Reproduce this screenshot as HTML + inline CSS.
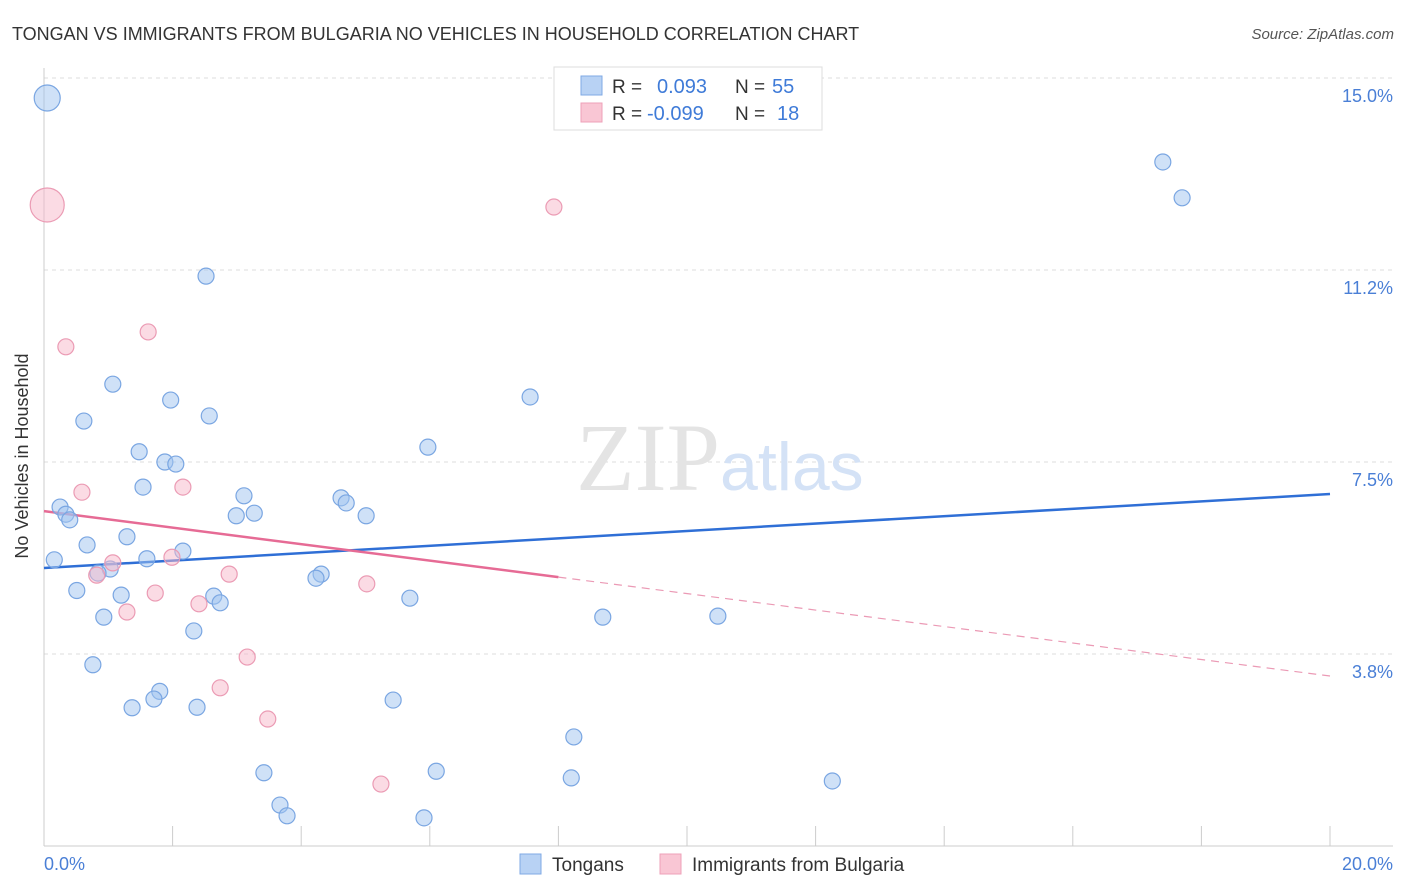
<!DOCTYPE html>
<html><head><meta charset="utf-8"><style>
body{margin:0;background:#fff;font-family:"Liberation Sans",sans-serif;}
svg{display:block}
</style></head><body>
<svg width="1406" height="892" xmlns="http://www.w3.org/2000/svg">
<text x="12" y="40" font-size="18" fill="#333">TONGAN VS IMMIGRANTS FROM BULGARIA NO VEHICLES IN HOUSEHOLD CORRELATION CHART</text>
<text x="1394" y="39" font-size="15" fill="#555" font-style="italic" text-anchor="end">Source: ZipAtlas.com</text>
<g id="grid"></g>
<line x1="44" y1="68" x2="44" y2="846" stroke="#ccc"/>
<line x1="44" y1="846" x2="1393" y2="846" stroke="#ccc"/>
<g id="xticks"></g>
<text x="720" y="490" font-size="96" fill="#e4e4e4" text-anchor="end" font-family="Liberation Serif,serif">ZIP</text>
<text x="720" y="490" font-size="68" fill="#d4e2f6">atlas</text>
<text x="28" y="456" font-size="18" fill="#333" text-anchor="middle" transform="rotate(-90 28 456)">No Vehicles in Household</text>
<text x="44" y="870" font-size="18" fill="#4a7fd6">0.0%</text>
<text x="1393" y="870" font-size="18" fill="#4a7fd6" text-anchor="end">20.0%</text>
<g id="trend"></g>
<g id="pts"></g>
<g>
<rect x="554" y="67" width="268" height="63" fill="#fff" stroke="#ddd"/>
<rect x="581" y="76" width="21" height="19" fill="#b8d2f4" stroke="#7fa9e4"/>
<rect x="581" y="103" width="21" height="19" fill="#f9c6d4" stroke="#eea0b8"/>
<text x="612" y="93" font-size="19" fill="#333">R = </text><text x="657" y="93" font-size="20" fill="#3f7bd8">0.093</text>
<text x="735" y="93" font-size="19" fill="#333">N = </text><text x="772" y="93" font-size="20" fill="#3f7bd8">55</text>
<text x="612" y="120" font-size="19" fill="#333">R = </text><text x="647" y="120" font-size="20" fill="#3f7bd8">-0.099</text>
<text x="735" y="120" font-size="19" fill="#333">N = </text><text x="777" y="120" font-size="20" fill="#3f7bd8">18</text>
</g>
<g>
<rect x="520" y="854" width="21" height="20" fill="#b8d2f4" stroke="#7fa9e4"/>
<text x="552" y="871" font-size="19" fill="#333">Tongans</text>
<rect x="660" y="854" width="21" height="20" fill="#f9c6d4" stroke="#eea0b8"/>
<text x="692" y="871" font-size="19" fill="#333">Immigrants from Bulgaria</text>
</g>
</svg>
<script>
const yTicks=[3.75,7.5,11.25,15];
const yTickLabels=["3.8%","7.5%","11.2%","15.0%"];
const xTicks=[0,2,4,6,8,10,12,14,16,18,20];
const blueX=[0.05,17.4,17.7,2.52,1.07,0.62,1.97,2.57,7.56,1.48,5.97,1.88,2.05,1.54,3.11,0.25,0.34,0.40,2.99,3.27,4.62,4.70,5.01,0.67,1.29,2.16,0.16,1.60,1.03,0.84,4.31,4.23,0.51,1.20,2.64,2.74,5.69,0.93,8.69,10.48,2.33,0.76,1.80,5.43,1.71,1.37,2.38,8.24,3.42,6.10,8.20,12.26,3.67,3.78,5.91];
const blueY=[14.61,13.36,12.66,11.13,9.02,8.30,8.71,8.40,8.77,7.70,7.79,7.50,7.46,7.01,6.84,6.62,6.48,6.37,6.45,6.50,6.80,6.70,6.45,5.88,6.04,5.76,5.59,5.61,5.41,5.33,5.31,5.23,4.99,4.90,4.88,4.75,4.84,4.47,4.47,4.49,4.20,3.54,3.02,2.85,2.87,2.70,2.71,2.13,1.43,1.46,1.33,1.27,0.80,0.59,0.55];
const pinkX=[0.05,7.93,1.62,0.34,0.59,2.16,1.07,0.82,1.99,2.88,1.73,2.41,1.29,5.02,3.16,2.74,3.48,5.24];
const pinkY=[12.52,12.48,10.04,9.75,6.91,7.01,5.53,5.29,5.64,5.31,4.94,4.73,4.57,5.12,3.69,3.09,2.48,1.21];
const pinkSize=[17,8,8,8,8,8,8,8,8,8,8,8,8,8,8,8,8,8];
const blueSize=[13,8,8,8,8,8,8,8,8,8,8,8,8,8,8,8,8,8,8,8,8,8,8,8,8,8,8,8,8,8,8,8,8,8,8,8,8,8,8,8,8,8,8,8,8,8,8,8,8,8,8,8,8,8,8];
const blueTrend=[5.43,6.875];
const pinkTrend=[6.54,3.32];
const pinkSolidEnd=8;
const NS="http://www.w3.org/2000/svg";
const sx=v=>44+v*64.3, sy=v=>846-v*51.2;
function mk(tag,attrs,parent){const e=document.createElementNS(NS,tag);for(const k in attrs)e.setAttribute(k,attrs[k]);parent.appendChild(e);return e;}
const grid=document.getElementById('grid');
yTicks.forEach((t,i)=>{
 const l=mk('line',{x1:44,x2:1393,y1:sy(t),y2:sy(t),stroke:'#ddd','stroke-dasharray':'4,4'},grid);
 
 
 const tx=mk('text',{x:1393,y:sy(t)+24,'font-size':18,fill:'#4a7fd6','text-anchor':'end'},grid);
 tx.textContent=yTickLabels[i];
 
 
});
const xt=document.getElementById('xticks');
xTicks.forEach(t=>{
 const l=mk('line',{x1:sx(t),x2:sx(t),y1:826,y2:846,stroke:'#ccc'},xt);
 
 
});
const tr=document.getElementById('trend');
const bl=mk('line',{x1:sx(0),y1:sy(blueTrend[0]),x2:sx(20),y2:sy(blueTrend[1]),stroke:'#2f6fd6','stroke-width':2.5},tr);


const pm=pinkTrend[0]+(pinkTrend[1]-pinkTrend[0])*pinkSolidEnd/20;
const pl=mk('line',{x1:sx(0),y1:sy(pinkTrend[0]),x2:sx(pinkSolidEnd),y2:sy(pm),stroke:'#e66b95','stroke-width':2.5},tr);


const pd=mk('line',{x1:sx(pinkSolidEnd),y1:sy(pm),x2:sx(20),y2:sy(pinkTrend[1]),stroke:'#eb9ab5','stroke-width':1.2,'stroke-dasharray':'8,6'},tr);


const pts=document.getElementById('pts');
blueX.forEach((x,i)=>{
 const c=mk('circle',{cx:sx(x),cy:sy(blueY[i]),r:blueSize[i],fill:'rgba(160,196,240,0.5)',stroke:'#7aa6e2','stroke-width':1.2},pts);
 
 
});
pinkX.forEach((x,i)=>{
 const c=mk('circle',{cx:sx(x),cy:sy(pinkY[i]),r:pinkSize[i],fill:'rgba(247,184,202,0.5)',stroke:'#eb9bb4','stroke-width':1.2},pts);
 
 
});
</script>
</body></html>
